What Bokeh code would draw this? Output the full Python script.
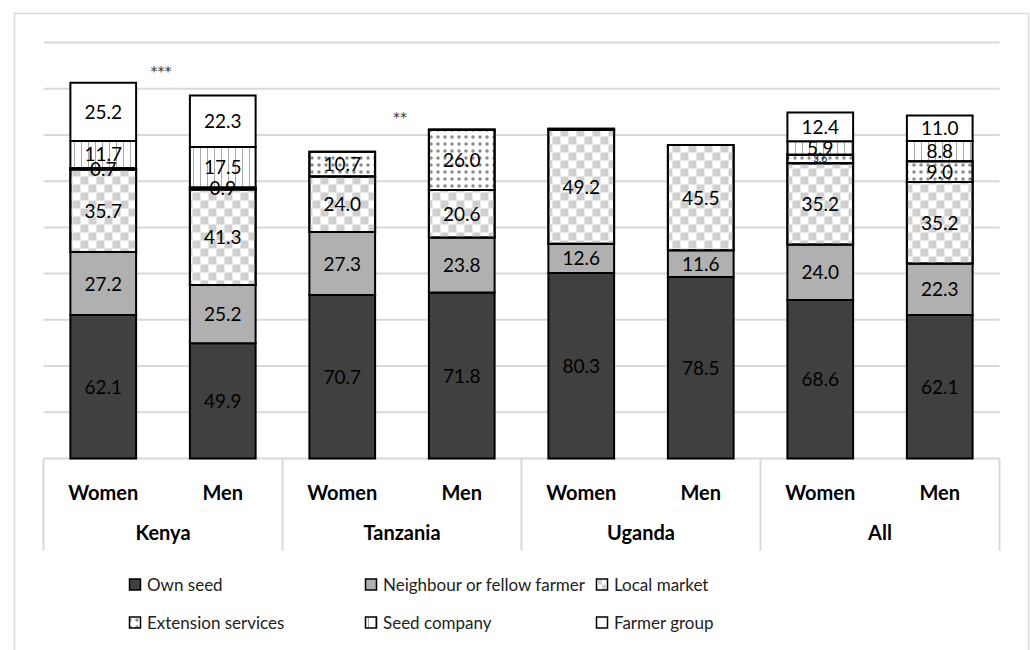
import numpy as np
from bokeh.plotting import figure
from bokeh.models import Range1d
from bokeh.core.properties import value
from bokeh.embed import file_html
from bokeh.resources import INLINE

# ---- data -------------------------------------------------------------
countries = ["Kenya", "Tanzania", "Uganda", "All"]
genders = ["Women", "Men"]
series_names = ["Own seed", "Neighbour or fellow farmer", "Local market",
                "Extension services", "Seed company", "Farmer group"]

# one value per bar: Kenya W/M, Tanzania W/M, Uganda W/M, All W/M
own_seed = [62.1, 49.9, 70.7, 71.8, 80.3, 78.5, 68.6, 62.1]
neighbour = [27.2, 25.2, 27.3, 23.8, 12.6, 11.6, 24.0, 22.3]
local_market = [35.7, 41.3, 24.0, 20.6, 49.2, 45.5, 35.2, 35.2]
extension = [0.7, 0.9, 10.7, 26.0, 0.6, 0.0, 3.6, 9.0]
seed_company = [11.7, 17.5, 0.0, 0.2, 0.0, 0.0, 5.9, 8.8]
farmer_group = [25.2, 22.3, 0.0, 0.0, 0.0, 0.0, 12.4, 11.0]

significance = ["***", "**", "", ""]
y_ticks = [20, 40, 60, 80, 100, 120, 140, 160, 180]

# ---- layout (pixels) --------------------------------------------------
W, H = 1030, 650
L, R, T, B = 43, 999, 42, 458
YMAX = 180
NB = 8
sx = (R - L) / NB
sy = (B - T) / YMAX


def X(px):
    return (px - L) / sx


def Y(py):
    return (B - py) / sy


FONT = value("Lato")
GRID = "#d9d9d9"
CHECK = "#d0d0d0"
CELL = 8  # checker cell size in px

p = figure(width=W, height=H, x_range=Range1d(X(0), X(W)),
           y_range=Range1d(Y(H), Y(0)), output_backend="svg",
           toolbar_location=None, x_axis_location=None, y_axis_location=None,
           min_border=0, outline_line_color=None, background_fill_color="white")
p.grid.visible = False

# chart border
p.quad(left=[X(14)], right=[X(1028)], top=[Y(13)], bottom=[Y(670)],
       fill_color=None, line_color=GRID, line_width=1.5)

# gridlines
p.segment(x0=0, x1=NB, y0=y_ticks, y1=y_ticks, line_color=GRID, line_width=2)

# category table below the bars
p.segment(x0=[0], x1=[NB], y0=[0], y1=[0], line_color=GRID, line_width=2)
sep_x = [0, 2, 4, 6, 8]
p.segment(x0=sep_x, x1=sep_x, y0=[0] * 5, y1=[Y(550)] * 5,
          line_color=GRID, line_width=2)

# ---- fill styles --------------------------------------------------------
styles = [
    dict(fill_color="#404040"),
    dict(fill_color="#b0b0b0"),
    dict(fill_color="white"),  # checker cells are added on top
    dict(fill_color="white", hatch_pattern="dot", hatch_color="#8a8a8a",
         hatch_scale=7, hatch_weight=0.7),
    dict(fill_color="white", hatch_pattern="vertical_line",
         hatch_color="#aaaaaa", hatch_scale=7, hatch_weight=1),
    dict(fill_color="white"),
]
CHECKER_SERIES = 2


def checker_cells(px0, px1, py0, py1):
    """Grey squares of a checkerboard clipped to a pixel box."""
    out = []
    ix0, ix1 = int(np.floor(px0 / CELL)), int(np.ceil(px1 / CELL))
    iy0, iy1 = int(np.floor(py0 / CELL)), int(np.ceil(py1 / CELL))
    for ix in range(ix0, ix1):
        for iy in range(iy0, iy1):
            if (ix + iy) % 2:
                continue
            a, b = max(ix * CELL, px0), min((ix + 1) * CELL, px1)
            c, d = max(iy * CELL, py0), min((iy + 1) * CELL, py1)
            if b > a and d > c:
                out.append((X(a), X(b), Y(d), Y(c)))
    return out


stack = np.vstack([own_seed, neighbour, local_market, extension,
                   seed_company, farmer_group])
tops = np.cumsum(stack, axis=0)
bottoms = tops - stack
xs = np.arange(NB) + 0.5
BAR_W = 0.55

for k in range(len(series_names)):
    m = stack[k] > 0
    p.vbar(x=xs[m], bottom=bottoms[k][m], top=tops[k][m], width=BAR_W,
           line_color="black", line_width=2, line_join="miter", **styles[k])

# checkerboard for the local market segments, then their outlines again
cells = []
for i in range(NB):
    v = stack[CHECKER_SERIES][i]
    if v <= 0:
        continue
    px0 = L + (xs[i] - BAR_W / 2) * sx
    px1 = L + (xs[i] + BAR_W / 2) * sx
    py_top = B - tops[CHECKER_SERIES][i] * sy
    py_bot = B - bottoms[CHECKER_SERIES][i] * sy
    cells += checker_cells(px0, px1, py_top, py_bot)
if cells:
    cl, cr, cb, ct = zip(*cells)
    p.quad(left=cl, right=cr, bottom=cb, top=ct, fill_color=CHECK,
           line_color=None)
m = stack[CHECKER_SERIES] > 0
p.vbar(x=xs[m], bottom=bottoms[CHECKER_SERIES][m], top=tops[CHECKER_SERIES][m],
       width=BAR_W, fill_color=None, line_color="black", line_width=2,
       line_join="miter")
# keep the next segment's border crisp on top of the checker
k = CHECKER_SERIES + 1
mk = stack[k] > 0
p.vbar(x=xs[mk], bottom=bottoms[k][mk], top=tops[k][mk], width=BAR_W,
       fill_color=None, line_color="black", line_width=2, line_join="miter")

# value labels
lx, ly, lt, ls = [], [], [], []
for k in range(len(series_names)):
    for i in range(NB):
        v = stack[k][i]
        if v >= 0.7:
            lx.append(xs[i])
            ly.append((bottoms[k][i] + tops[k][i]) / 2)
            lt.append(f"{v:.1f}")
            small = v * sy < 10 and v >= 1
            ls.append("10px" if small else "19px")
p.text(x=lx, y=ly, text=lt, text_font=FONT, text_font_size=ls,
       text_align="center", text_baseline="middle", text_color="black")

# significance markers
totals = tops[-1]
for g, s in enumerate(significance):
    if s:
        top = max(totals[2 * g], totals[2 * g + 1])
        p.text(x=[2 * g + 1 - 2 / sx], y=[top + 12 / sy], text=[s],
               text_font=value("DejaVu Sans"), text_font_size="14px",
               text_align="center", text_baseline="middle",
               text_color="#333333")

# category labels
p.text(x=xs, y=[Y(491)] * NB, text=genders * len(countries), text_font=FONT,
       text_font_size="20px", text_font_style="bold", text_align="center",
       text_baseline="middle", text_color="black")
p.text(x=[1, 3, 5, 7], y=[Y(531)] * 4, text=countries, text_font=FONT,
       text_font_size="20px", text_font_style="bold", text_align="center",
       text_baseline="middle", text_color="black")

# legend
leg_cols = [134.5, 370.5, 601.5]
leg_rows = [584, 622]
SQ = 11
for k, name in enumerate(series_names):
    cx = leg_cols[k % 3]
    cy = leg_rows[k // 3]
    p.quad(left=[X(cx - SQ / 2)], right=[X(cx + SQ / 2)],
           bottom=[Y(cy + SQ / 2)], top=[Y(cy - SQ / 2)],
           line_color="black", line_width=1.5, line_join="miter",
           **styles[k])
    if k == CHECKER_SERIES:
        h = SQ / 2
        p.quad(left=[X(cx - h + 1), X(cx)], right=[X(cx), X(cx + h - 1)],
               top=[Y(cy - h + 1), Y(cy)], bottom=[Y(cy), Y(cy + h - 1)],
               fill_color=CHECK, line_color=None)
    p.text(x=[X(cx + 12)], y=[Y(cy)], text=[name], text_font=FONT,
           text_font_size="17px", text_align="left", text_baseline="middle",
           text_color="#222222")

open("out.html", "w").write(file_html(p, INLINE))
